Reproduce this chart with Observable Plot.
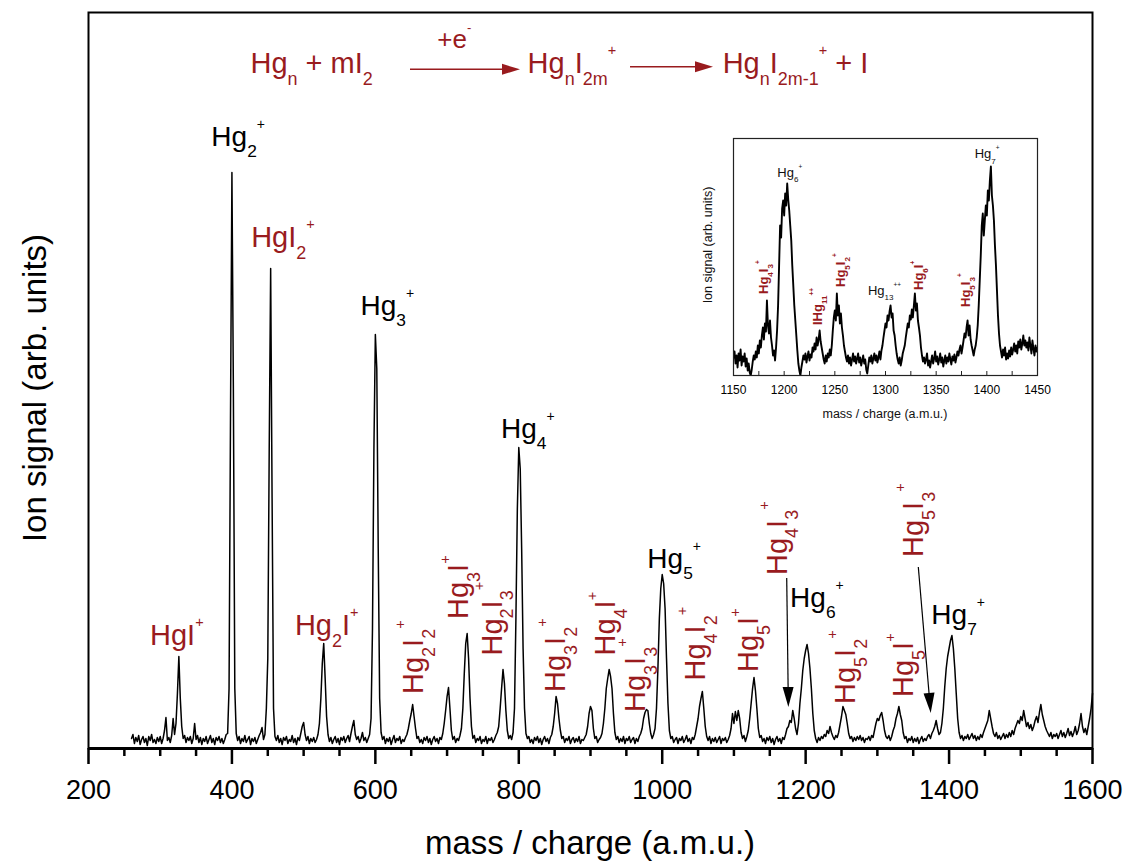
<!DOCTYPE html>
<html><head><meta charset="utf-8">
<script src="https://cdn.jsdelivr.net/npm/d3@7"></script>
<script src="https://cdn.jsdelivr.net/npm/@observablehq/plot@0.6"></script>
<style>
body{margin:0;background:#fff;}
#chart{position:relative;width:1126px;height:863px;overflow:hidden;font-family:"Liberation Sans",Arial,sans-serif;}
#inset{position:absolute;left:690px;top:128px;}
text{white-space:pre;}
</style></head><body><div id="chart"></div>
<script>
// ---------------- DATA ----------------
// main spectrum: signal (arb. units) sampled every 2 a.m.u. from m/z 260
const mainStart = 260, mainStep = 2;
const mainSignal = [
 10,14,5,11,7,13,4,9,12,6,10,3,12,8,14,6,9,5,11,7,                       // 260-298
 12,5,10,18,31,8,11,6,13,30,14,25,55,92,50,22,10,13,6,11,8,12,5,10,25,    // 300-348
 9,13,6,11,4,10,7,12,5,9,13,6,10,4,11,8,12,6,10,5,9,14,15,60,330,         // 350-398
 576,360,60,15,8,12,5,10,7,13,6,9,12,4,10,7,11,5,9,13,16,21,9,14,40,      // 400-448
 90,300,480,250,40,12,8,13,6,10,4,11,8,12,5,9,7,13,6,10,4,11,8,15,22,     // 450-498
 26,14,8,12,5,10,7,11,6,9,14,25,50,85,105,70,32,14,7,11,5,9,12,6,10,      // 500-548
 4,11,8,12,6,10,13,7,15,22,28,14,9,12,6,10,16,8,11,6,10,14,30,120,300,    // 550-598
 414,380,200,50,16,9,12,5,10,7,11,4,9,13,6,10,8,12,5,9,7,11,14,20,28,     // 600-648
 35,44,32,20,10,12,6,9,5,11,8,12,6,10,4,9,12,7,10,5,11,9,15,25,38,        // 650-698
 52,61,40,18,9,12,6,10,8,13,20,40,75,105,115,90,50,22,10,13,6,10,8,12,5,  // 700-748
 9,7,12,5,10,8,11,6,9,13,16,22,40,60,79,65,38,18,10,13,9,16,40,130,240,   // 750-798
 301,280,200,100,40,15,10,12,6,9,5,11,8,12,6,10,4,9,12,7,10,5,11,14,22,   // 800-848
 35,52,45,30,18,10,12,6,10,8,12,5,9,11,6,10,7,12,5,9,8,11,14,22,35,       // 850-898
 42,38,20,10,12,6,9,11,15,25,40,60,70,79,72,60,35,16,9,12,6,10,7,12,5,    // 900-948
 10,8,12,6,9,11,5,10,7,12,15,20,30,36,39,38,25,15,10,14,20,40,80,130,160, // 950-998
 174,165,140,90,45,18,10,12,6,9,11,5,10,8,12,6,9,13,7,10,5,11,9,14,22,    // 1000-1048
 30,42,50,57,40,22,12,8,12,5,10,7,11,6,9,12,5,10,8,11,6,9,13,20,35,       // 1050-1098
 25,37,28,38,30,16,10,13,7,12,18,30,45,60,71,58,40,20,11,13,7,10,5,11,8,  // 1100-1148
 12,6,10,4,9,12,7,10,5,11,9,14,20,22,28,26,38,30,20,14,25,45,60,78,90,    // 1150-1198
 98,104,95,80,60,35,18,10,6,11,8,12,10,14,12,18,15,22,16,12,9,13,11,16,24,// 1200-1248
 32,42,38,34,25,15,10,12,7,11,8,12,9,13,8,11,6,10,9,12,8,13,11,18,25,     // 1250-1298
 30,28,33,36,28,18,12,10,13,8,12,18,22,30,35,42,34,28,16,10,12,6,10,8,12, // 1300-1348
 6,10,7,11,5,9,12,7,10,8,12,14,10,15,18,22,28,20,14,16,25,40,62,80,92,    // 1350-1398
 100,108,113,100,80,55,30,16,10,13,8,12,10,14,9,12,15,10,13,8,12,9,14,11,16, // 1400-1448
 20,24,28,38,30,22,15,12,16,10,13,9,12,15,10,14,11,16,12,18,14,20,24,28,25,  // 1450-1498
 32,28,38,30,22,26,20,24,18,22,28,32,26,36,44,34,28,22,18,15,12,16,10,14,12, // 1500-1548
 15,10,14,18,12,16,11,15,20,13,17,12,16,22,14,18,25,35,22,16,20,14,22,30,40,55 // 1550-1600
];
// inset spectrum: signal sampled every 1 a.m.u. from m/z 1150
const insetStart = 1150, insetStep = 1;
const insetSignal = [
 18,24,12,20,8,22,15,26,10,19,
 14,22,9,17,5,12,3,0,6,14,
 20,16,24,18,30,22,35,28,40,48,
 36,52,44,75,50,42,55,38,30,20,
 25,15,28,45,70,110,150,138,167,175,
 160,182,170,192,176,165,150,135,110,90,
 70,55,40,25,12,5,0,8,14,20,
 16,22,13,19,24,15,21,18,28,24,
 32,26,38,30,36,45,34,28,22,16,
 12,20,14,22,18,26,20,30,45,58,
 65,55,82,60,70,52,62,48,40,30,
 24,18,14,20,12,18,10,16,22,14,
 19,12,17,22,13,18,10,15,20,12,
 16,6,2,10,18,14,20,12,17,22,
 15,20,13,18,24,16,25,30,38,45,
 52,48,60,55,64,70,58,62,45,40,
 30,22,16,12,18,10,15,22,26,30,
 38,45,52,48,60,56,66,58,70,82,
 65,72,55,48,40,28,20,14,18,12,
 16,22,10,15,8,14,20,12,17,24,
 14,19,11,16,22,13,18,9,15,20,
 12,18,14,22,16,11,19,15,21,13,
 18,24,20,26,30,22,28,35,42,38,
 48,55,40,50,36,30,25,20,26,30,
 38,50,70,95,120,150,162,140,155,170,
 160,185,175,195,209,180,170,155,130,110,
 85,60,42,30,24,18,26,20,28,16,
 22,17,25,19,28,21,26,32,24,30,
 22,34,28,36,26,32,40,30,35,28,
 33,25,38,30,22,35,27,20,30,24,
 28
];
const mainMajorTicks = [200, 400, 600, 800, 1000, 1200, 1400, 1600];
const mainMinorTicks = [250, 300, 350, 450, 500, 550, 650, 700, 750, 850, 900, 950, 1050, 1100, 1150, 1250, 1300, 1350, 1450, 1500, 1550];
const insetMajorTicks = [1150, 1200, 1250, 1300, 1350, 1400, 1450];
const insetAllTicks = [1150,1175,1200,1225,1250,1275,1300,1325,1350,1375,1400,1425,1450];

// peak labels: parts ("_" = subscript, "^" = superscript) and anchor in data units (m/z, signal)
const clusterLabels = [
 {parts:["Hg","_2","^+"], mz:372, s:602},
 {parts:["Hg","_3","^+"], mz:580, s:433},
 {parts:["Hg","_4","^+"], mz:776, s:310},
 {parts:["Hg","_5","^+"], mz:980, s:180},
 {parts:["Hg","_6","^+"], mz:1179, s:141},
 {parts:["Hg","_7","^+"], mz:1376, s:124}
];
const iodideLabelsH = [
 {parts:["HgI","^+"], mz:286.5, s:103},
 {parts:["Hg","_2","I","^+"], mz:488.5, s:113},
 {parts:["HgI","_2","^+"], mz:427.5, s:501}
];
const iodideLabelsV = [
 {parts:["Hg","_2","I","_2","^+"], mz:667.6, s:54},
 {parts:["Hg","_3","I","^+"], mz:730.3, s:129},
 {parts:["Hg","_2","I","_3","^+"], mz:776.9, s:92.5},
 {parts:["Hg","_3","I","_2","^+"], mz:865.1, s:56},
 {parts:["Hg","_4","I","^+"], mz:934.9, s:92.5},
 {parts:["Hg","_3","I","_3","^+"], mz:976.7, s:36},
 {parts:["Hg","_4","I","_2","^+"], mz:1060.4, s:67.5},
 {parts:["Hg","_5","I","^+"], mz:1134.7, s:76},
 {parts:["Hg","_4","I","_3","^+"], mz:1174.3, s:173},
 {parts:["Hg","_5","I","_2","^+"], mz:1269.5, s:44},
 {parts:["Hg","_5","I","^+"], mz:1350.8, s:51},
 {parts:["Hg","_5","I","_3","^+"], mz:1364.8, s:191}
];
const pointerArrows = [
 {mz1:1174.3, s1:170, mz2:1176.6, s2:41},
 {mz1:1357.8, s1:181, mz2:1375.1, s2:35}
];
const equationParts = [
 {parts:["Hg","_n"," + mI","_2"], mz:426.5, s:674.7, size:29},
 {parts:["+e","^-"], mz:687, s:699.7, size:26},
 {parts:["Hg","_n","I","_2m","^+"], mz:813, s:674.7, size:29},
 {parts:["Hg","_n","I","_2m-1","^+"," + I"], mz:1085, s:674.7, size:29}
];
const equationArrows = [
 {mz1:649, mz2:802.4, s:678.7},
 {mz1:955.8, mz2:1071.5, s:681.3}
];
const insetBlackLabels = [
 {parts:["Hg","_6","^+"], mz:1193.7, s:198.3},
 {parts:["Hg","_7","^+"], mz:1388.5, s:216.7},
 {parts:["Hg","_13","^++"], mz:1283.2, s:80}
];
const insetRedLabels = [
 {parts:["Hg","_4","I","_3","^+"], mz:1184.8, s:81},
 {parts:["IHg","_11","^++"], mz:1237.5, s:50},
 {parts:["Hg","_5","I","_2","^+"], mz:1260.5, s:88},
 {parts:["Hg","_6","I","^+"], mz:1337.5, s:85},
 {parts:["Hg","_5","I","_3","^+"], mz:1383.9, s:68}
];

// ---------------- RENDER ----------------
const RED = "#991b1e";
const FONT = "Liberation Sans, Arial, sans-serif";
const mainData = mainSignal.map((v, i) => ({mz: mainStart + i * mainStep, signal: v}));
const insetData = insetSignal.map((v, i) => ({mz: insetStart + i * insetStep, signal: v}));

const main = Plot.plot({
  width: 1126, height: 863,
  marginLeft: 88, marginRight: 34, marginTop: 12, marginBottom: 115,
  style: {fontFamily: FONT, color: "black", background: "transparent"},
  x: {domain: [200, 1600], label: null},
  y: {domain: [0, 736], axis: null},
  marks: [
    Plot.frame({stroke: "black", strokeWidth: 2}),
    Plot.axisX(mainMinorTicks, {tickSize: 8, strokeWidth: 2.5, tickFormat: () => "", label: null}),
    Plot.axisX(mainMajorTicks, {tickSize: 16, strokeWidth: 2.5, tickPadding: 15, fontSize: 27, tickFormat: d => String(d), label: null}),
    Plot.line(mainData, {x: "mz", y: "signal", stroke: "black", strokeWidth: 1.5}),
    Plot.ruleY([0], {stroke: "black", strokeWidth: 3})
  ]
});

const inset = Plot.plot({
  width: 380, height: 300,
  marginLeft: 43, marginRight: 33, marginTop: 10, marginBottom: 53,
  style: {fontFamily: FONT, color: "black", background: "transparent"},
  x: {domain: [1150, 1450], label: null},
  y: {domain: [0, 237], axis: null},
  marks: [
    Plot.line(insetData, {x: "mz", y: "signal", stroke: "black", strokeWidth: 1.9, clip: true}),
    Plot.ruleX(insetAllTicks, {x: d => d, y1: 0, y2: 4, stroke: "#222", strokeWidth: 1}),
    Plot.axisX(insetMajorTicks, {tickSize: 0, tickPadding: 9.5, fontSize: 12, tickFormat: d => String(d), label: null}),
    Plot.frame({stroke: "#222", strokeWidth: 1.2})
  ]
});
inset.id = "inset";

const chart = document.getElementById("chart");
chart.appendChild(main);
chart.appendChild(inset);

function rich(g, parts, x, y, size, color, opts = {}) {
  const t = g.append("text")
    .attr("transform", `translate(${x},${y}) rotate(${opts.rotate || 0})`)
    .attr("font-size", size).attr("fill", color)
    .attr("font-family", FONT)
    .attr("font-weight", opts.weight || "normal")
    .attr("text-anchor", opts.anchor || "start");
  let cur = 0;
  for (const p of parts) {
    let kind = "n", s = p;
    if (p[0] === "_") { kind = "sub"; s = p.slice(1); }
    else if (p[0] === "^") { kind = "sup"; s = p.slice(1); }
    const off = kind === "sub" ? 0.4 * size : kind === "sup" ? -0.62 * size : 0;
    const fs = kind === "n" ? size : kind === "sub" ? 0.62 * size : 0.5 * size;
    t.append("tspan").attr("dy", off - cur).attr("font-size", fs).text(s);
    cur = off;
  }
  return t;
}

function arrowHead(g, x1, y1, x2, y2, len, half, color, width) {
  const dx = x2 - x1, dy = y2 - y1, L = Math.hypot(dx, dy);
  const ux = dx / L, uy = dy / L;
  const bx = x2 - ux * len, by = y2 - uy * len;
  g.append("line").attr("x1", x1).attr("y1", y1).attr("x2", bx + ux * 2).attr("y2", by + uy * 2)
    .attr("stroke", color).attr("stroke-width", width);
  g.append("path")
    .attr("d", `M${x2},${y2}L${bx - uy * half},${by + ux * half}L${bx + uy * half},${by - ux * half}Z`)
    .attr("fill", color);
}

// main annotations
{
  const X = main.scale("x").apply, Y = main.scale("y").apply;
  const g = d3.select(main).append("g");
  for (const l of clusterLabels) rich(g, l.parts, X(l.mz), Y(l.s), 28, "black");
  for (const l of iodideLabelsH) rich(g, l.parts, X(l.mz), Y(l.s), 29, RED);
  for (const l of iodideLabelsV) rich(g, l.parts, X(l.mz), Y(l.s), 29, RED, {rotate: -90});
  for (const a of pointerArrows) arrowHead(g, X(a.mz1), Y(a.s1), X(a.mz2), Y(a.s2), 20, 5.5, "black", 1.2);
  for (const e of equationParts) rich(g, e.parts, X(e.mz), Y(e.s), e.size, RED);
  for (const a of equationArrows) arrowHead(g, X(a.mz1), Y(a.s), X(a.mz2), Y(a.s), 18, 5.5, RED, 1.6);
  // axis titles
  g.append("text").attr("x", X(900)).attr("y", 854).attr("text-anchor", "middle")
    .attr("font-size", 33).attr("font-family", FONT).attr("fill", "black").text("mass / charge (a.m.u.)");
  g.append("text").attr("transform", `translate(46,${Y(360)}) rotate(-90)`).attr("text-anchor", "middle")
    .attr("font-size", 33).attr("font-family", FONT).attr("fill", "black").text("Ion signal (arb. units)");
}

// inset annotations
{
  const X = inset.scale("x").apply, Y = inset.scale("y").apply;
  const g = d3.select(inset).append("g");
  for (const l of insetBlackLabels) rich(g, l.parts, X(l.mz), Y(l.s), 13, "#111");
  for (const l of insetRedLabels) rich(g, l.parts, X(l.mz), Y(l.s), 13, RED, {rotate: -90, weight: "bold"});
  g.append("text").attr("x", X(1300)).attr("y", 290).attr("text-anchor", "middle")
    .attr("font-size", 12.5).attr("font-family", FONT).attr("fill", "#111").text("mass / charge (a.m.u.)");
  g.append("text").attr("transform", `translate(22,${Y(130)}) rotate(-90)`).attr("text-anchor", "middle")
    .attr("font-size", 12.5).attr("font-family", FONT).attr("fill", "#111").text("Ion signal (arb. units)");
}
</script></body></html>
